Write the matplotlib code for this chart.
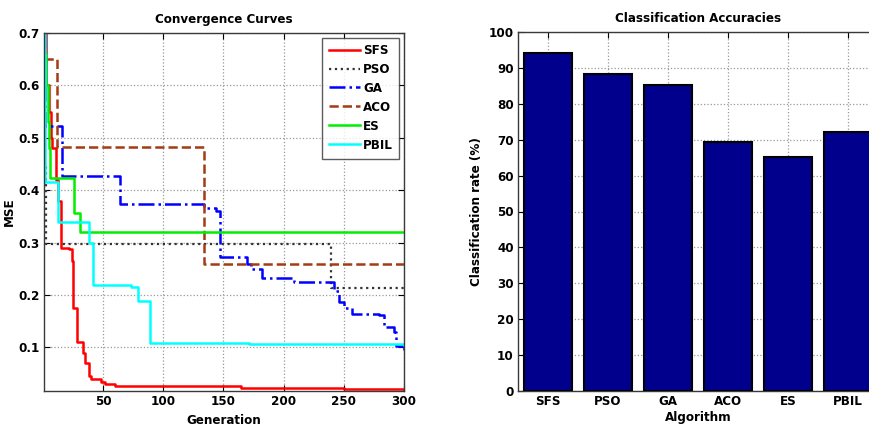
import matplotlib
matplotlib.use("Agg")
import matplotlib.pyplot as plt

plt.rcParams['font.family'] = ['DejaVu Sans']
plt.rcParams['font.stretch'] = 'condensed'
plt.rcParams['font.weight'] = 'bold'

# convergence curves: (generation, MSE) breakpoints, held until the next one
sfs_gen = [1, 3, 5, 7, 8, 11, 13, 15, 22, 24, 25, 28, 33, 35, 38, 40, 48, 52, 60, 98, 165, 250, 300]
sfs_mse = [0.70, 0.60, 0.55, 0.50, 0.48, 0.42, 0.38, 0.29, 0.287, 0.265, 0.176, 0.111, 0.09, 0.071,
           0.045, 0.039, 0.035, 0.030, 0.027, 0.026, 0.022, 0.020, 0.018]

pso_gen = [1, 2, 3, 238, 239, 300]
pso_mse = [0.70, 0.45, 0.297, 0.297, 0.214, 0.214]

ga_gen = [1, 2, 15, 16, 63, 64, 133, 134, 144, 147, 167, 170, 173, 182, 207, 209, 238, 242,
          246, 250, 257, 279, 283, 292, 293, 300]
ga_mse = [0.70, 0.523, 0.523, 0.428, 0.428, 0.374, 0.374, 0.366, 0.36, 0.273, 0.273, 0.26,
          0.249, 0.233, 0.233, 0.224, 0.224, 0.207, 0.186, 0.175, 0.163, 0.162, 0.14, 0.13, 0.102, 0.096]

aco_gen = [1, 11, 12, 133, 134, 300]
aco_mse = [0.65, 0.65, 0.483, 0.483, 0.26, 0.26]

es_gen = [1, 3, 4, 5, 6, 26, 31, 300]
es_mse = [0.66, 0.60, 0.53, 0.48, 0.424, 0.357, 0.321, 0.321]

pbil_gen = [1, 2, 12, 13, 36, 38, 42, 72, 73, 79, 89, 171, 300]
pbil_mse = [0.70, 0.416, 0.416, 0.34, 0.34, 0.30, 0.22, 0.22, 0.215, 0.188, 0.109, 0.106, 0.105]

# classification accuracies
algorithms = ['SFS', 'PSO', 'GA', 'ACO', 'ES', 'PBIL']
accuracy = [94.2, 88.3, 85.1, 69.3, 65.2, 72.2]

fig = plt.figure(figsize=(8.69, 4.30), dpi=100)

def matlab_axes(ax):
    for s in ax.spines.values():
        s.set_color('#3a3a3a')
        s.set_linewidth(1.0)
    ax.tick_params(direction='in', top=True, right=True, length=4, width=0.8,
                   labelsize=9.5, pad=3)
    ax.grid(True, linestyle=':', color='#999999', linewidth=0.9)
    ax.set_axisbelow(True)
    for lab in ax.get_xticklabels() + ax.get_yticklabels():
        lab.set_fontweight('bold')

# left: convergence curves
ax1 = fig.add_axes([44 / 869, 1 - 391 / 430, 360 / 869, 358 / 430])
ax1.plot(sfs_gen, sfs_mse, color='#ff0000', lw=1.8, drawstyle='steps-post', label='SFS')
ax1.plot(pso_gen, pso_mse, color='#333333', lw=1.6, ls=':', drawstyle='steps-post', label='PSO')
ax1.plot(ga_gen, ga_mse, color='#0000ff', lw=1.8, ls='-.', drawstyle='steps-post', label='GA')
ax1.plot(aco_gen, aco_mse, color='#a23b16', lw=1.8, ls='--', drawstyle='steps-post', label='ACO')
ax1.plot(es_gen, es_mse, color='#00ee00', lw=1.8, drawstyle='steps-post', label='ES')
ax1.plot(pbil_gen, pbil_mse, color='#00ffff', lw=1.8, drawstyle='steps-post', label='PBIL')
ax1.set_xlim(1, 300)
ax1.set_ylim(0.017, 0.7)
ax1.set_xticks([50, 100, 150, 200, 250, 300])
ax1.set_yticks([0.1, 0.2, 0.3, 0.4, 0.5, 0.6, 0.7])
ax1.set_xticklabels(['50', '100', '150', '200', '250', '300'])
ax1.set_yticklabels(['0.1', '0.2', '0.3', '0.4', '0.5', '0.6', '0.7'])
matlab_axes(ax1)
ax1.set_title('Convergence Curves', fontsize=9.5, fontweight='bold', pad=7)
ax1.set_xlabel('Generation', fontsize=9.5, fontweight='bold', labelpad=4)
ax1.set_ylabel('MSE', fontsize=9.5, fontweight='bold', labelpad=2)
leg = ax1.legend(loc='upper right', fontsize=9.5, frameon=True, fancybox=False,
                 handlelength=2.4, handletextpad=0.2, borderpad=0.5, labelspacing=0.45,
                 borderaxespad=0.35)
leg.get_frame().set_edgecolor('#333333')
leg.get_frame().set_linewidth(1.0)
for t in leg.get_texts():
    t.set_fontweight('bold')

# right: classification accuracies
ax2 = fig.add_axes([518 / 869, 1 - 391 / 430, 360 / 869, 359 / 430])
pos = list(range(1, len(algorithms) + 1))
ax2.bar(pos, accuracy, width=0.8, color='#00008c', edgecolor='black', linewidth=1.5, zorder=3)
ax2.set_xlim(0.5, 6.5)
ax2.set_ylim(0, 100)
ax2.set_xticks(pos)
ax2.set_xticklabels(algorithms)
ax2.set_yticks(range(0, 101, 10))
matlab_axes(ax2)
ax2.set_title('Classification Accuracies', fontsize=9.5, fontweight='bold', pad=7)
ax2.set_xlabel('Algorithm', fontsize=9.5, fontweight='bold', labelpad=2)
ax2.set_ylabel('Classification rate (%)', fontsize=9.5, fontweight='bold', labelpad=4)

fig.savefig('out.png', dpi=100)
